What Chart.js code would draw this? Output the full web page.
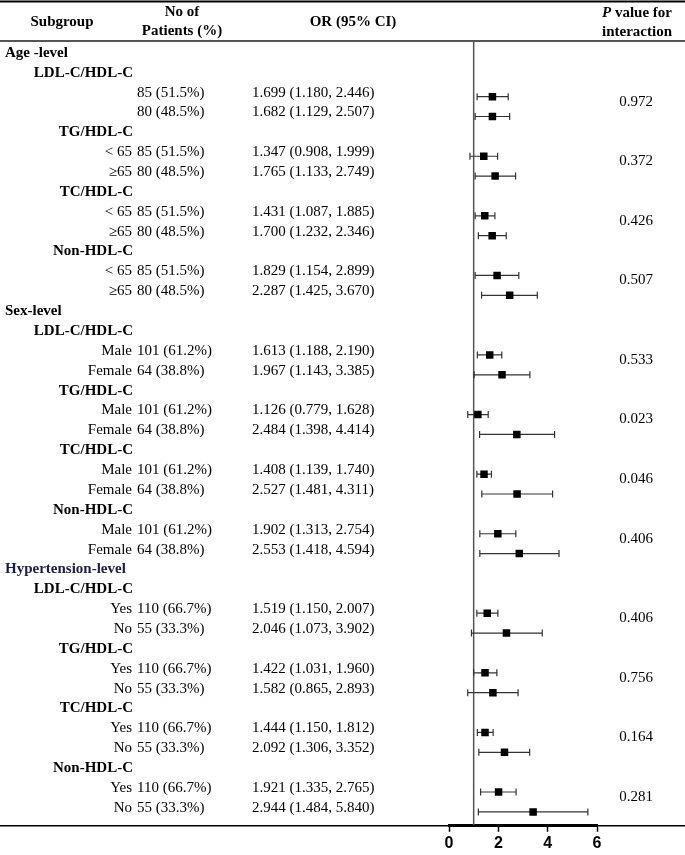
<!DOCTYPE html>
<html>

<head>
    <meta charset="utf-8" />
    <style>
        body { margin: 0; background: #fff; }
        #wrap { position: relative; width: 685px; height: 855px; }
    </style>
</head>

<body>

    <div id="wrap">
        <canvas id="chart"></canvas>
    </div>

    <script src="https://cdn.jsdelivr.net/npm/chart.js"></script>
    <script type="text/javascript">

        // Data
        const groupNames = ['Age -level', 'Sex-level', 'Hypertension-level'];
        const markerNames = ['LDL-C/HDL-C', 'TG/HDL-C', 'TC/HDL-C', 'Non-HDL-C'];

        const subgroupLabels = [
            '', '', '< 65', '\u226565', '< 65', '\u226565', '< 65', '\u226565',
            'Male', 'Female', 'Male', 'Female', 'Male', 'Female', 'Male', 'Female',
            'Yes', 'No', 'Yes', 'No', 'Yes', 'No', 'Yes', 'No'
        ];
        const patients = [
            '85 (51.5%)', '80 (48.5%)', '85 (51.5%)', '80 (48.5%)', '85 (51.5%)', '80 (48.5%)', '85 (51.5%)', '80 (48.5%)',
            '101 (61.2%)', '64 (38.8%)', '101 (61.2%)', '64 (38.8%)', '101 (61.2%)', '64 (38.8%)', '101 (61.2%)', '64 (38.8%)',
            '110 (66.7%)', '55 (33.3%)', '110 (66.7%)', '55 (33.3%)', '110 (66.7%)', '55 (33.3%)', '110 (66.7%)', '55 (33.3%)'
        ];
        const orText = [
            '1.699 (1.180, 2.446)', '1.682 (1.129, 2.507)', '1.347 (0.908, 1.999)', '1.765 (1.133, 2.749)',
            '1.431 (1.087, 1.885)', '1.700 (1.232, 2.346)', '1.829 (1.154, 2.899)', '2.287 (1.425, 3.670)',
            '1.613 (1.188, 2.190)', '1.967 (1.143, 3.385)', '1.126 (0.779, 1.628)', '2.484 (1.398, 4.414)',
            '1.408 (1.139, 1.740)', '2.527 (1.481, 4.311)', '1.902 (1.313, 2.754)', '2.553 (1.418, 4.594)',
            '1.519 (1.150, 2.007)', '2.046 (1.073, 3.902)', '1.422 (1.031, 1.960)', '1.582 (0.865, 2.893)',
            '1.444 (1.150, 1.812)', '2.092 (1.306, 3.352)', '1.921 (1.335, 2.765)', '2.944 (1.484, 5.840)'
        ];
        // where the marks sit on the plot
        const plotOR = [
            1.76, 1.76, 1.41, 1.87, 1.45, 1.75, 1.95, 2.46,
            1.65, 2.15, 1.17, 2.75, 1.42, 2.76, 1.98, 2.85,
            1.55, 2.33, 1.46, 1.78, 1.46, 2.25, 2.01, 3.41
        ];
        const plotLow = [
            1.14, 1.06, 0.85, 1.06, 1.06, 1.19, 1.06, 1.32,
            1.15, 1.02, 0.76, 1.24, 1.13, 1.33, 1.25, 1.25,
            1.13, 0.91, 1.00, 0.76, 1.15, 1.21, 1.28, 1.19
        ];
        const plotHigh = [
            2.40, 2.46, 1.97, 2.70, 1.86, 2.32, 2.83, 3.58,
            2.14, 3.28, 1.59, 4.28, 1.72, 4.20, 2.71, 4.46,
            1.98, 3.78, 1.94, 2.80, 1.79, 3.27, 2.72, 5.63
        ];
        const pValues = ['0.972', '0.372', '0.426', '0.507', '0.533', '0.023', '0.046', '0.406', '0.406', '0.756', '0.164', '0.281'];
        const xTicks = [0, 2, 4, 6];

        // build the row layout: group title, marker title, two subgroup rows
        const rows = [];
        const dataRows = [];
        let r = 1, k = 0;
        groupNames.forEach(g => {
            rows.push({ type: 'group', text: g, y: r++ });
            markerNames.forEach(m => {
                rows.push({ type: 'marker', text: m, y: r++ });
                for (let s = 0; s < 2; s++) {
                    dataRows.push({ idx: k++, y: r++ });
                }
            });
        });

        const serif = '"Liberation Serif", "Times New Roman", serif';

        const forestPlugin = {
            id: 'forest',
            beforeDatasetsDraw(chart) {
                const ctx = chart.ctx;
                const xs = chart.scales.x;
                const ys = chart.scales.y;
                const area = chart.chartArea;

                ctx.save();
                // reference line at OR = 1
                ctx.strokeStyle = '#555';
                ctx.lineWidth = 1.5;
                ctx.beginPath();
                ctx.moveTo(xs.getPixelForValue(1), area.top);
                ctx.lineTo(xs.getPixelForValue(1), area.bottom);
                ctx.stroke();

                // confidence intervals
                ctx.strokeStyle = '#333';
                ctx.lineWidth = 1.2;
                dataRows.forEach(d => {
                    const y = ys.getPixelForValue(d.y);
                    const x1 = xs.getPixelForValue(plotLow[d.idx]);
                    const x2 = xs.getPixelForValue(plotHigh[d.idx]);
                    ctx.beginPath();
                    ctx.moveTo(x1, y);
                    ctx.lineTo(x2, y);
                    ctx.moveTo(x1, y - 3.5);
                    ctx.lineTo(x1, y + 3.5);
                    ctx.moveTo(x2, y - 3.5);
                    ctx.lineTo(x2, y + 3.5);
                    ctx.stroke();
                });
                ctx.restore();
            },
            afterDraw(chart) {
                const ctx = chart.ctx;
                const ys = chart.scales.y;
                const area = chart.chartArea;
                const W = chart.width;

                ctx.save();
                // table rules
                ctx.strokeStyle = '#000';
                ctx.lineWidth = 2;
                ctx.beginPath();
                ctx.moveTo(0, 1.5); ctx.lineTo(W, 1.5);
                ctx.stroke();
                ctx.strokeStyle = '#555';
                ctx.beginPath();
                ctx.moveTo(0, 41); ctx.lineTo(W, 41);
                ctx.stroke();
                ctx.strokeStyle = '#000';
                ctx.lineWidth = 1.5;
                ctx.beginPath();
                ctx.moveTo(0, area.bottom); ctx.lineTo(W, area.bottom);
                ctx.stroke();

                // header
                ctx.fillStyle = '#000';
                ctx.textBaseline = 'middle';
                ctx.font = 'bold 15px ' + serif;
                ctx.textAlign = 'center';
                ctx.fillText('Subgroup', 62, 22);
                ctx.fillText('No of', 182, 12);
                ctx.fillText('Patients (%)', 182, 31);
                ctx.fillText('OR (95% CI)', 353, 22);
                ctx.textAlign = 'right';
                ctx.fillText('interaction', 672, 32);
                const restW = ctx.measureText(' value for').width;
                ctx.fillText(' value for', 672, 13);
                ctx.font = 'italic bold 15px ' + serif;
                ctx.fillText('P', 672 - restW, 13);

                // left columns
                const off = -4;
                rows.forEach(row => {
                    const y = ys.getPixelForValue(row.y) + off;
                    ctx.font = 'bold 15px ' + serif;
                    if (row.type === 'group') {
                        ctx.textAlign = 'left';
                        ctx.fillStyle = row.text === 'Hypertension-level' ? '#1c1c4e' : '#000';
                        ctx.fillText(row.text, 5, y);
                    } else {
                        ctx.textAlign = 'right';
                        ctx.fillStyle = '#000';
                        ctx.fillText(row.text, 133, y);
                    }
                });
                ctx.font = '15px ' + serif;
                ctx.fillStyle = '#000';
                dataRows.forEach(d => {
                    const y = ys.getPixelForValue(d.y) + off;
                    ctx.textAlign = 'right';
                    ctx.fillText(subgroupLabels[d.idx], 132, y);
                    ctx.textAlign = 'left';
                    ctx.fillText(patients[d.idx], 137, y);
                    ctx.fillText(orText[d.idx], 252, y);
                });

                // p values, one per pair
                ctx.textAlign = 'center';
                pValues.forEach((p, i) => {
                    const yA = ys.getPixelForValue(dataRows[i * 2].y);
                    const yB = ys.getPixelForValue(dataRows[i * 2 + 1].y);
                    ctx.fillText(p, 636, (yA + yB) / 2 - 5);
                });
                ctx.restore();
            }
        };

        const ctx = document.getElementById('chart').getContext('2d');

        const myChart = new Chart(ctx, {
            type: 'scatter',
            data: {
                datasets: [{
                    data: dataRows.map(d => ({ x: plotOR[d.idx], y: d.y })),
                    pointStyle: 'rect',
                    pointRadius: 5.3,
                    backgroundColor: '#000',
                    borderColor: '#000',
                    borderWidth: 0
                }]
            },
            options: {
                responsive: true,
                maintainAspectRatio: false,
                animation: false,
                events: [],
                layout: {
                    padding: { left: 449, right: 88, top: 42, bottom: 0 }
                },
                plugins: {
                    legend: { display: false },
                    tooltip: { enabled: false }
                },
                scales: {
                    x: {
                        type: 'linear',
                        min: 0,
                        max: 6,
                        afterBuildTicks: axis => {
                            axis.ticks = xTicks.map(v => ({ value: v }));
                        },
                        ticks: {
                            color: '#000',
                            padding: 2,
                            font: { family: '"Liberation Sans", Arial, sans-serif', size: 16, weight: 'bold' }
                        },
                        grid: {
                            drawOnChartArea: false,
                            drawTicks: true,
                            tickLength: 6,
                            tickWidth: 1.5,
                            tickColor: '#000'
                        },
                        border: { display: true, width: 3, color: '#000' }
                    },
                    y: {
                        type: 'linear',
                        display: false,
                        reverse: true,
                        min: 0.25,
                        max: 39.7
                    }
                }
            },
            plugins: [forestPlugin]
        });

    </script>

</body>

</html>
